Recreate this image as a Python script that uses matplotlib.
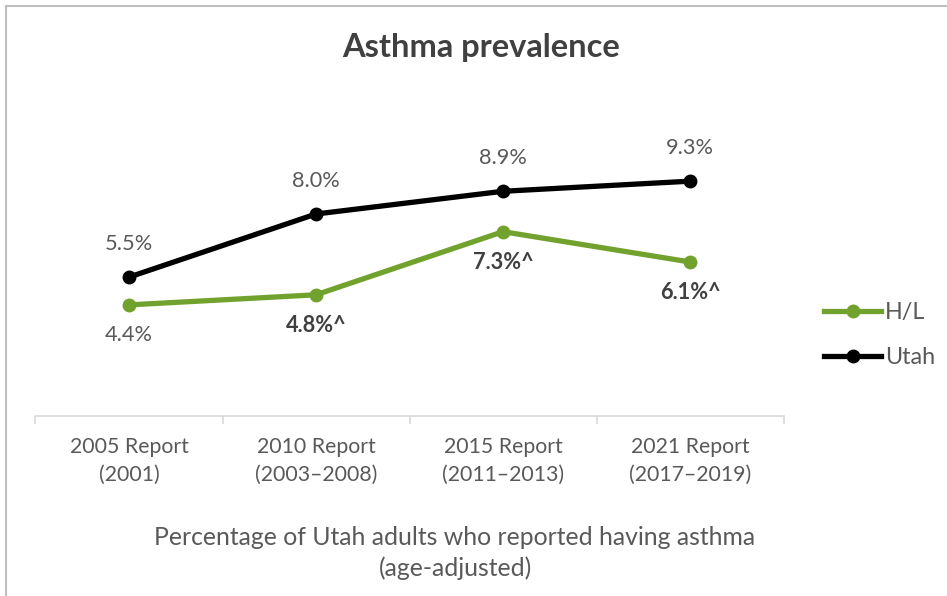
import matplotlib.pyplot as plt
from matplotlib.lines import Line2D

plt.rcParams['font.family'] = ['Lato', 'DejaVu Sans']

# data
categories = ['2005 Report\n(2001)', '2010 Report\n(2003\u20132008)',
              '2015 Report\n(2011\u20132013)', '2021 Report\n(2017\u20132019)']
hl_values = [4.4, 4.8, 7.3, 6.1]
utah_values = [5.5, 8.0, 8.9, 9.3]
hl_labels = ['4.4%', '4.8%^', '7.3%^', '6.1%^']
hl_bold = [False, True, True, True]
utah_labels = ['5.5%', '8.0%', '8.9%', '9.3%']

GREEN = '#72A22E'
TEXT = '#595959'
AXIS = '#D9D9D9'

W, H = 947, 596
fig = plt.figure(figsize=(W / 100, H / 100), dpi=100)
# axes placed in pixel terms: x from 35.5 to 783.5, y 0 at 416, 12 at ~113
ax = fig.add_axes([35.5 / W, (H - 416) / H, 748 / W, 303 / H])
x = list(range(len(categories)))

ax.plot(x, hl_values, color=GREEN, lw=3.8, marker='o', ms=9, zorder=3)
ax.plot(x, utah_values, color='black', lw=3.8, marker='o', ms=9, zorder=4)

for xi, v, lab in zip(x, utah_values, utah_labels):
    ax.annotate(lab, (xi, v), xytext=(0, 24), textcoords='offset points',
                ha='center', va='center', fontsize=15.7, color=TEXT)
for xi, v, lab, b in zip(x, hl_values, hl_labels, hl_bold):
    ax.annotate(lab, (xi, v), xytext=(0, -22), textcoords='offset points',
                ha='center', va='center', fontsize=15.7, color=TEXT if not b else '#404040',
                fontweight='bold' if b else 'normal')

ax.set_xlim(-0.5, len(categories) - 0.5)
ax.set_ylim(0, 12)
for s in ['top', 'right', 'left']:
    ax.spines[s].set_visible(False)
ax.spines['bottom'].set_color(AXIS)
ax.spines['bottom'].set_linewidth(1.2)
ax.set_yticks([])

ax.set_xticks(x)
ax.set_xticklabels(categories, fontsize=15.3, color=TEXT, linespacing=1.5)
ax.tick_params(axis='x', which='major', length=0, pad=15)
ax.set_xticks([i - 0.5 for i in range(len(categories) + 1)], minor=True)
ax.tick_params(axis='x', which='minor', length=6, width=1.2, color=AXIS)

fig.text(455 / W, 1 - 553 / H,
         'Percentage of Utah adults who reported having asthma\n(age-adjusted)',
         ha='center', va='center', fontsize=17.8, color=TEXT, linespacing=1.35)

fig.text(481 / W, 1 - 48 / H, 'Asthma prevalence', ha='center', va='center',
         fontsize=23.5, fontweight='bold', color='#404040')

handles = [Line2D([], [], color=GREEN, lw=3.8, marker='o', ms=9),
           Line2D([], [], color='black', lw=3.8, marker='o', ms=9)]
fig.legend(handles, ['H/L', 'Utah'], loc='center left',
           bbox_to_anchor=(803 / W, 1 - 335 / H), frameon=False,
           fontsize=16.8, labelcolor=TEXT, handlelength=2.45, handletextpad=0.17,
           labelspacing=1.05)

# chart border (top and left edges visible)
fig.add_artist(Line2D([6 / W, 6 / W], [0, 1 - 5.5 / H], color='#BFBFBF', lw=1.5,
                      transform=fig.transFigure))
fig.add_artist(Line2D([6 / W, 1], [1 - 5.5 / H, 1 - 5.5 / H], color='#BFBFBF', lw=1.5,
                      transform=fig.transFigure))

fig.savefig('out.png', dpi=100)
